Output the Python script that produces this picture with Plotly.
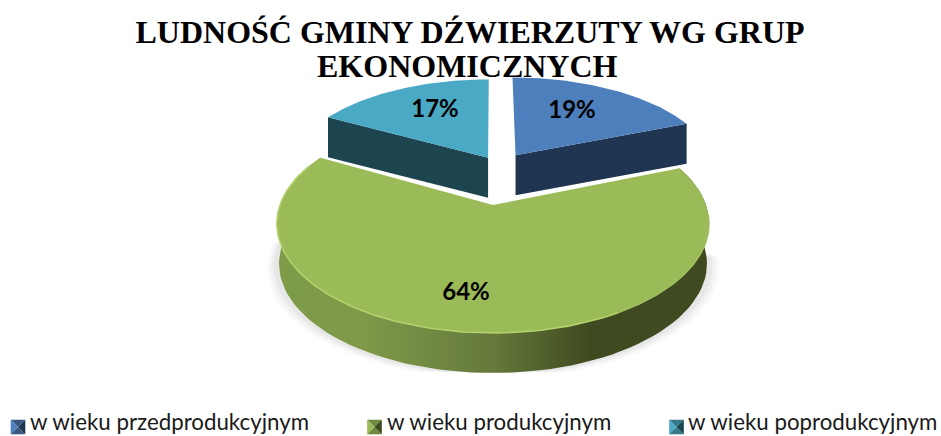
import numpy as np
import plotly.graph_objects as go

TITLE_LINE_1 = "LUDNOŚĆ GMINY DŹWIERZUTY WG GRUP"
TITLE_LINE_2 = "EKONOMICZNYCH"
categories = ["w wieku przedprodukcyjnym", "w wieku produkcyjnym", "w wieku poprodukcyjnym"]
values = [19, 64, 17]

# --- drawing style / geometry of the 3-D pie (pixels of the 941x436 page) ---
TOP_COLORS = ["#4d7fbc", "#9bbb59", "#4aa9c5"]
SIDE_COLORS = ["#1f3552", "#6f8a3f", "#1d4550"]
KEY_MID = ["#36597f", "#6f8a3f", "#35798c"]
KEY_DARK = ["#1f3552", "#3f4a20", "#1d4550"]
CX, CY = 493, 205      # apex of the un-exploded slice
R = 213                # disc radius
A = 106.2              # vertical scale
K = 0.17               # perspective strength
DEPTH = 40
EXPLODE = [(0.115, -0.51), (0.0, 0.0), (-0.025, -0.48)]
LABEL_XY = [(572, 112), (466, 294), (435, 111)]
KEY_X = [18, 374.5, 676.5]
KEY_Y = 427
KEY_HALF = 7.3
KEY_TEXT_X = [28, 385, 686]
KEY_TEXT_Y = 421.5


def project(u, v, lift=0.0, shrink=1.0):
    s = 1 / (1 - K * v)
    return CX + R * u * s * shrink, CY + A * v * s + lift


def wedge(start, end, off, n=90):
    t = np.radians(np.linspace(start, end, n))
    return off[0] + np.sin(t), off[1] - np.cos(t)


def rim(a, b, off, lift=0.0, shrink=1.0):
    u, v = wedge(a, b, off)
    return project(u, v, lift, shrink)


total = sum(values)
edges = np.cumsum([0] + values) / total * 360

fig = go.Figure()


def area(x, y, color=None, **kw):
    fig.add_trace(go.Scatter(x=list(x), y=list(y), mode="lines", fill="toself",
                             fillcolor=color, line=dict(width=0), showlegend=False,
                             hoverinfo="skip", **kw))


# soft shadow below the big slice
a0, a1 = edges[1], edges[2]
for grow, alpha in [(1.045, 0.025), (1.03, 0.03), (1.015, 0.04)]:
    x, y = rim(a0 + 25, a1 - 25, EXPLODE[1], DEPTH, grow)
    area(x, np.minimum(y + (grow - 1) * 120, 372), f"rgba(0,0,0,{alpha})")

# back slices first
for i in (0, 2):
    a, b = edges[i], edges[i + 1]
    off = EXPLODE[i]
    end_angle = b if i == 0 else a
    ax, ay = project(np.array([off[0]]), np.array([off[1]]))
    rx, ry = rim(end_angle, end_angle, off)
    area([ax[0], rx[0], rx[0], ax[0]], [ay[0], ry[0], ry[0] + DEPTH, ay[0] + DEPTH], SIDE_COLORS[i])
    x, y = rim(a, b, off)
    area(np.r_[ax, x, ax], np.r_[ay, y, ay], TOP_COLORS[i])

# big slice: outer wall, then top face
x_top, y_top = rim(a0, a1, EXPLODE[1])
x_bot, y_bot = rim(a0, a1, EXPLODE[1], DEPTH, 0.99)
area(np.r_[x_top, x_bot[::-1]], np.r_[y_top, y_bot[::-1]],
     fillgradient=dict(type="horizontal", start=277, stop=710,
                       colorscale=[[0, "#7d9b48"], [0.2, "#80994a"], [0.5, "#64793a"],
                                   [0.72, "#3f4a20"], [1, "#3f4a20"]]))
ax, ay = project(np.array([EXPLODE[1][0]]), np.array([EXPLODE[1][1]]))
area(np.r_[ax, x_top, ax], np.r_[ay, y_top, ay], TOP_COLORS[1])

# light rim of the big slice
x, y = rim(a1 - 6, 150, EXPLODE[1])
fig.add_trace(go.Scatter(x=x, y=y, mode="lines", line=dict(color="#b3d26c", width=1.6),
                         showlegend=False, hoverinfo="skip"))
x, y = rim(150, 95, EXPLODE[1])
fig.add_trace(go.Scatter(x=x, y=y, mode="lines", line=dict(color="#a3c162", width=1.2),
                         showlegend=False, hoverinfo="skip"))

# percentage labels
fig.add_trace(go.Scatter(x=[p[0] for p in LABEL_XY], y=[p[1] for p in LABEL_XY], mode="text",
                         text=[f"{v}%" for v in values], textposition="middle center",
                         textfont=dict(family="Lato", size=24, color="#000000", weight="bold"),
                         showlegend=False, hoverinfo="skip"))

# legend row: bevelled keys (four facets) and their labels
annotations = [dict(text=TITLE_LINE_2, xref="paper", yref="paper", x=467 / 941, y=1 - 66 / 436,
                    xanchor="center", yanchor="middle", showarrow=False,
                    font=dict(family="Liberation Serif", size=32, color="#000000", weight="bold"))]
for i, name in enumerate(categories):
    cx, cy, h = KEY_X[i], KEY_Y, KEY_HALF
    area([cx - h, cx + h, cx], [cy - h, cy - h, cy], KEY_MID[i])
    area([cx - h, cx - h, cx], [cy - h, cy + h, cy], TOP_COLORS[i])
    area([cx - h, cx + h, cx], [cy + h, cy + h, cy], KEY_MID[i])
    area([cx + h, cx + h, cx], [cy - h, cy + h, cy], KEY_DARK[i])
    annotations.append(dict(text=name, x=KEY_TEXT_X[i], y=KEY_TEXT_Y, xref="x", yref="y",
                            xanchor="left", yanchor="middle", showarrow=False,
                            font=dict(family="Lato", size=22.3, color="#1a1a1a")))

fig.update_layout(
    width=941, height=436, margin=dict(l=0, r=0, t=0, b=0, autoexpand=False),
    paper_bgcolor="#ffffff", plot_bgcolor="#ffffff", showlegend=False,
    xaxis=dict(range=[0, 941], visible=False, fixedrange=True),
    yaxis=dict(range=[436, 0], visible=False, fixedrange=True),
    title=dict(text=TITLE_LINE_1, x=470 / 941, xanchor="center", y=1 - 32 / 436, yanchor="middle",
               font=dict(family="Liberation Serif", size=32, color="#000000", weight="bold")),
    annotations=annotations,
)

fig.write_html("out.html", config=dict(displayModeBar=False),
               post_script="document.body.style.margin='0';document.documentElement.style.overflow='hidden';")
